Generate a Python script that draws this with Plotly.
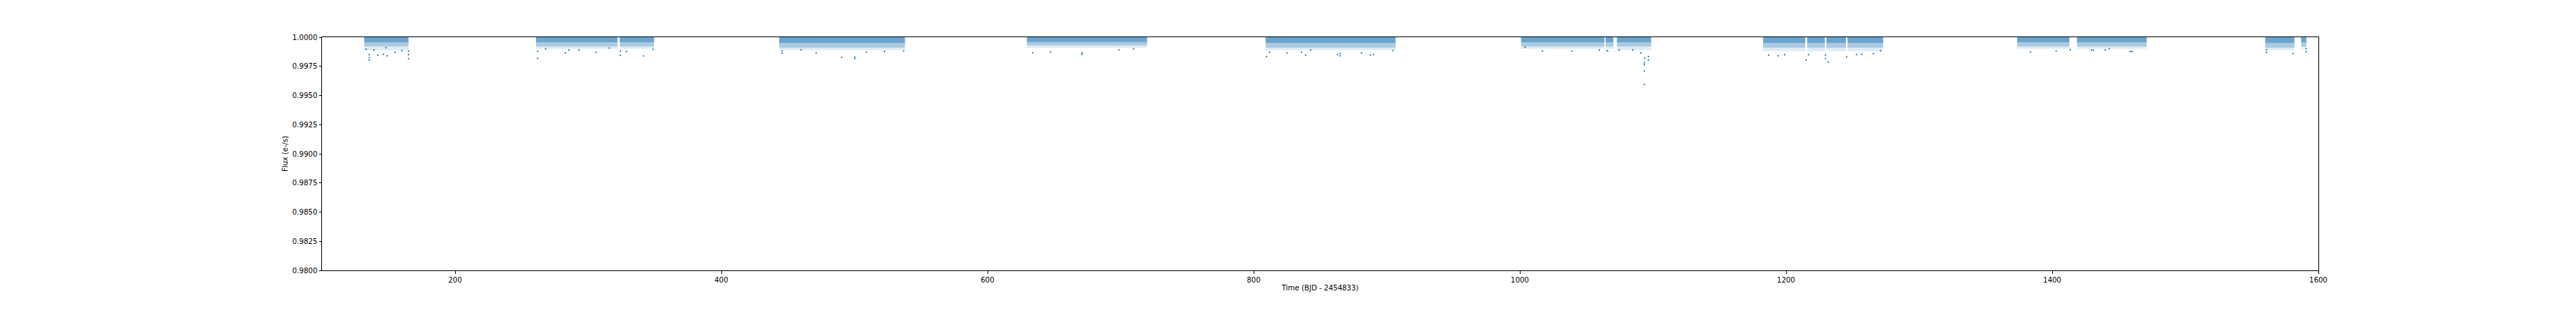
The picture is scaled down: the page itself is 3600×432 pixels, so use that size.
import plotly.graph_objects as go

# observing segments (days, BJD - 2454833): start / end of each continuous block
seg_start = [131.7, 260.8, 323.7, 443.5, 629.6, 809.0, 1000.9, 1064.5, 1072.9,
             1182.8, 1215.8, 1230.3, 1246.2, 1373.6, 1418.6, 1560.0, 1587.0]
seg_end = [165.0, 322.0, 349.5, 538.0, 720.0, 906.7, 1063.6, 1070.3, 1098.7,
           1214.5, 1229.2, 1245.0, 1273.0, 1412.9, 1471.0, 1582.0, 1591.0]
# dense core of the cadence points, lower edge of the main scatter, faint tail
core_low = [0.99955, 0.99955, 0.99955, 0.99950, 0.99958, 0.99950, 0.99955, 0.99955, 0.99955,
            0.99950, 0.99950, 0.99950, 0.99950, 0.99955, 0.99955, 0.99950, 0.99955]
spread_low = [0.9992, 0.9992, 0.9992, 0.9991, 0.9993, 0.9991, 0.9992, 0.9992, 0.9992,
              0.9991, 0.9991, 0.9991, 0.9991, 0.9992, 0.9992, 0.9991, 0.9992]
tail_low = [0.9989, 0.9990, 0.9990, 0.9989, 0.9991, 0.9989, 0.9990, 0.9990, 0.9989,
            0.9988, 0.9988, 0.9988, 0.9988, 0.9990, 0.9990, 0.9989, 0.9990]

# sparse low points
out_time = [135.5, 135.5, 135.5, 133.2, 139.0, 142.0, 146.2, 149.0, 155.0, 160.0, 165.0, 165.0, 165.0, 148.0,
            262.0, 262.0, 282.8, 285.5, 293.0, 306.0, 315.9, 324.2, 324.2, 328.8, 341.6, 348.8, 268.0,
            445.7, 445.7, 471.3, 490.4, 500.3, 500.3, 509.0, 522.6, 537.0, 460.0,
            634.0, 647.5, 671.0, 671.0, 698.7, 709.8,
            809.7, 812.0, 825.0, 836.0, 839.0, 863.0, 865.0, 865.0, 881.0, 887.6, 890.0, 842.8, 904.7,
            1004.0, 1017.0, 1039.0, 1066.0, 1059.7, 1065.6,
            1093.5, 1093.5, 1093.5, 1093.5, 1093.8, 1096.6, 1096.6, 1091.0, 1074.7, 1084.8,
            1187.0, 1194.0, 1199.0, 1215.0, 1217.0, 1229.6, 1229.6, 1231.7, 1245.6, 1253.0, 1257.0,
            1265.6, 1271.0,
            1383.7, 1403.0, 1413.5, 1431.0, 1458.6, 1442.9, 1460.0, 1439.8, 1429.6,
            1561.0, 1561.0, 1581.0, 1590.7, 1590.7]
out_flux = [0.99805, 0.99850, 0.99825, 0.99896, 0.99890, 0.99846, 0.99854, 0.99840, 0.99870, 0.99884,
            0.99816, 0.99850, 0.99880, 0.99910,
            0.99818, 0.99880, 0.99864, 0.99890, 0.99890, 0.99870, 0.99907, 0.99845, 0.99880, 0.99876,
            0.99839, 0.99895, 0.99900,
            0.99882, 0.99862, 0.99866, 0.99828, 0.99816, 0.99830, 0.99872, 0.99878, 0.99882, 0.99892,
            0.99866, 0.99872, 0.99852, 0.99866, 0.99892, 0.99900,
            0.99834, 0.99870, 0.99864, 0.99870, 0.99846, 0.99850, 0.99840, 0.99860, 0.99864, 0.99846,
            0.99850, 0.99890, 0.99885,
            0.99913, 0.99882, 0.99882, 0.99882, 0.99890, 0.99884,
            0.99595, 0.99710, 0.99764, 0.99780, 0.99820, 0.99804, 0.99834, 0.99864, 0.99890, 0.99890,
            0.99846, 0.99840, 0.99850, 0.99804, 0.99850, 0.99816, 0.99846, 0.99786, 0.99830, 0.99850,
            0.99854, 0.99860, 0.99884,
            0.99872, 0.99882, 0.99892, 0.99888, 0.99878, 0.99900, 0.99876, 0.99890, 0.99890,
            0.99870, 0.99892, 0.99860, 0.99875, 0.99900]

x_ticks = [200, 400, 600, 800, 1000, 1200, 1400, 1600]
y_ticks = [0.9800, 0.9825, 0.9850, 0.9875, 0.9900, 0.9925, 0.9950, 0.9975, 1.0000]

blue = "#1f77b4"


def bands(lows, highs):
    xs, ys = [], []
    for s, e, lo, hi in zip(seg_start, seg_end, lows, highs):
        xs += [s, e, e, s, s, None]
        ys += [hi, hi, lo, lo, hi, None]
    return xs, ys


fig = go.Figure()

layers = [
    (tail_low, spread_low, "rgba(31,119,180,0.14)"),
    (spread_low, core_low, "rgba(31,119,180,0.38)"),
    (core_low, [1.0] * len(seg_start), "rgba(31,119,180,0.66)"),
]
for lows, highs, colour in layers:
    bx, by = bands(lows, highs)
    fig.add_trace(go.Scatter(x=bx, y=by, mode="lines", fill="toself",
                             fillcolor=colour, line=dict(width=0),
                             hoverinfo="skip", showlegend=False))

fig.add_trace(go.Scatter(x=out_time, y=out_flux, mode="markers",
                         marker=dict(size=2.2, color=blue, line=dict(width=0)),
                         showlegend=False))

axis_style = dict(showline=True, linecolor="black", linewidth=1, mirror=True,
                  ticks="outside", ticklen=3.5, tickwidth=1, tickcolor="black",
                  showgrid=False, zeroline=False,
                  tickfont=dict(family="DejaVu Sans", size=10, color="black"),
                  title_font=dict(family="DejaVu Sans", size=10, color="black"))

fig.update_xaxes(range=[100, 1600], tickvals=x_ticks, ticktext=[str(t) for t in x_ticks],
                 title_text="Time (BJD - 2454833)", title_standoff=3, **axis_style)
fig.update_yaxes(range=[0.98, 1.0], tickvals=y_ticks, ticktext=[f"{t:.4f}" for t in y_ticks],
                 title_text="Flux (e-/s)", title_standoff=4, **axis_style)

# page body has an 8px margin, so the figure is shrunk by that much
fig.update_layout(width=3592, height=424, plot_bgcolor="white", paper_bgcolor="white",
                  margin=dict(l=442, r=360, t=44, b=54, pad=0),
                  font=dict(family="DejaVu Sans", color="black"))

fig.write_html("out.html")
